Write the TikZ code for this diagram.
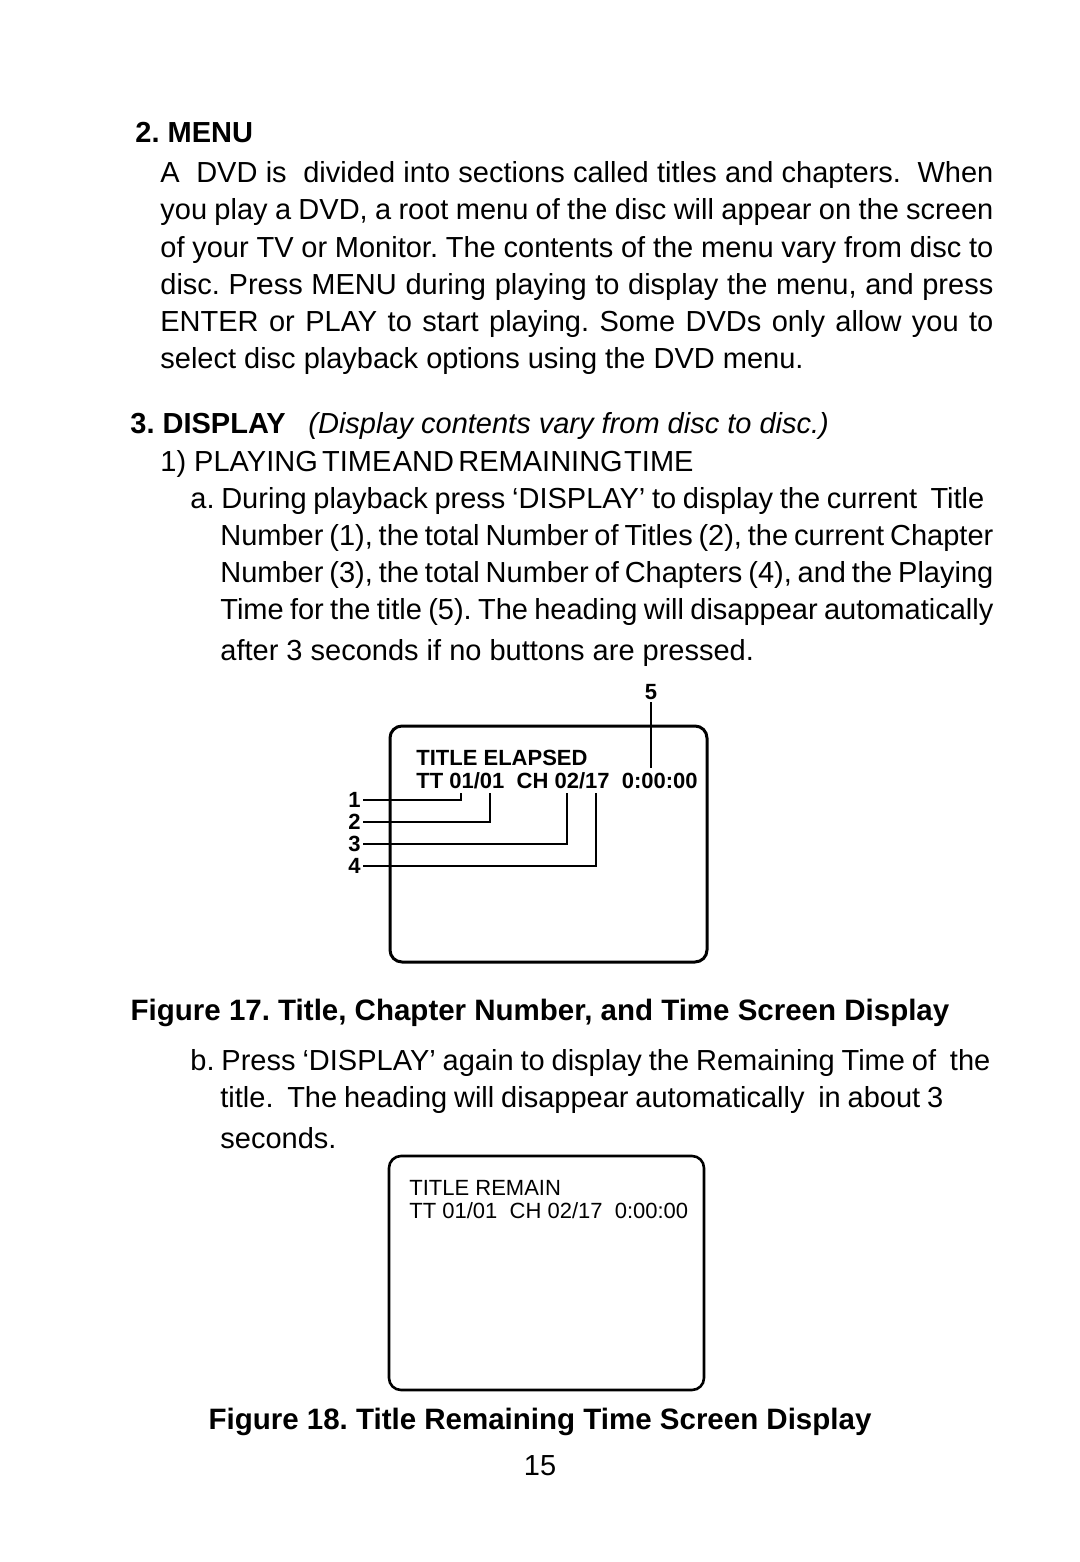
\documentclass[tikz,border=0pt]{standalone}
\usepackage{fontspec}
\setmainfont{Liberation Sans}
\newcommand\txtfont{\fontsize{14.5}{18}\selectfont\frenchspacing}
\newcommand\osdfont{\fontsize{11}{13}\selectfont\frenchspacing}
\newcommand\jline[2]{\makebox[#1][s]{#2}}

\begin{document}
\begin{tikzpicture}[x=0.5pt, y=-0.5pt,
  txt/.style={anchor=base west, inner sep=0pt, font=\txtfont},
  head/.style={txt, font=\txtfont\bfseries},
  figcap/.style={anchor=base, inner sep=0pt,
    font=\fontsize{14.75}{18}\selectfont\frenchspacing\bfseries},
  osd/.style={anchor=base west, inner sep=0pt, font=\osdfont},
  screen/.style={draw, line width=1.5pt, rounded corners=6pt},
  tag/.style={font=\osdfont\bfseries, inner sep=1pt},
  lead/.style={line width=0.75pt}]

\useasboundingbox (0,0) rectangle (1080,1562);

% 2. MENU
\node [head] (menu) at (135,143) {2. MENU};
\foreach \l [count=\i from 0] in {
  {A\ \ DVD is\ \ divided into sections called titles and chapters.\ \ When},
  {you play a DVD, a root menu of the disc will appear on the screen},
  {of your TV or Monitor. The contents of the menu vary from disc to},
  {disc. Press MENU during playing to display the menu, and press},
  {ENTER or PLAY to start playing. Some DVDs only allow you to}}
  \node [txt] (menu-\i) at (160,183+37*\i) {\jline{416.5pt}{\l}};
\node [txt] (menu-5) at (160,368)
  {select disc playback options using the DVD menu.};

% 3. DISPLAY
\node [head] (disp) at (130,433) {3. DISPLAY};
\node [txt, font=\txtfont\itshape] (disp-note) at (308,433)
  {(Display contents vary from disc to disc.)};
\node [txt] (play) at (160,471)
  {1)\ PLAYING\hspace{.15em}TIME\hspace{.05em}AND\hspace{.15em}REMAINING\hspace{.05em}TIME};
\node [txt] (part-a) at (190,508)
  {\jline{397pt}{a.\ During playback press ‘DISPLAY’ to display the current\ \ Title}};
\foreach \l/\y [count=\i] in {
  {Number (1), the total Number of Titles (2), the current Chapter}/545,
  {Number (3), the total Number of Chapters (4), and the Playing}/582,
  {Time for the title (5). The heading will disappear automatically}/619}
  \node [txt] (part-a-\i) at (220,\y) {\jline{386.5pt}{\l}};
\node [txt] (part-a-4) at (220,660) {after 3 seconds if no buttons are pressed.};

% figure 17
\draw [screen] (390,726) rectangle (707,962);
\node [osd, font=\osdfont\bfseries] (elapsed) at (416,765) {TITLE ELAPSED};
\node [osd, font=\osdfont\bfseries] (elapsed-info) at (416,788)
  {TT 01/01\ \ CH 02/17\ \ 0:00:00};

\foreach \n/\x/\y in {1/461/800, 2/490/822, 3/567/844, 4/596/866} {
  \node [tag, anchor=east] (tag-\n) at (363,\y) {\n};
  \coordinate (tap-\n) at (\x,793);
  \draw [lead] (tag-\n.east) -| (tap-\n);
}
\node [tag] (tag-5) at (651,692) {5};
\coordinate (tap-5) at (651,768);
\draw [lead] (tag-5.south) -- (tap-5);

\node [figcap] (fig-17) at (540,1020)
  {Figure 17. Title, Chapter Number, and Time Screen Display};

\node [txt] (part-b) at (190,1070)
  {\jline{400pt}{b.\ Press ‘DISPLAY’ again to display the Remaining Time of\ \ the}};
\node [txt] (part-b-1) at (220,1107)
  {\jline{361.5pt}{title.\ \ The heading will disappear automatically\ \ in about 3}};
\node [txt] (part-b-2) at (220,1148) {seconds.};

% figure 18
\draw [screen, line width=1.3pt] (389,1156) rectangle (704,1390);
\node [osd] (remain) at (409,1195) {TITLE REMAIN};
\node [osd] (remain-info) at (409,1218) {TT 01/01\ \ CH 02/17\ \ 0:00:00};

\node [figcap] (fig-18) at (540,1429)
  {Figure 18. Title Remaining Time Screen Display};
\node [anchor=base, inner sep=0pt, font=\txtfont] (page) at (540,1475) {15};

\end{tikzpicture}
\end{document}
